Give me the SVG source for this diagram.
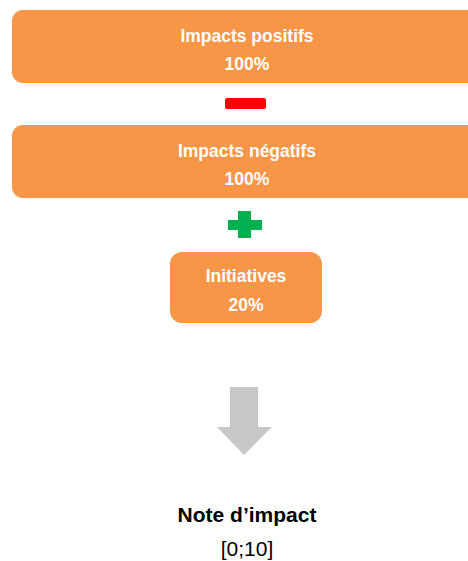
<svg xmlns="http://www.w3.org/2000/svg" width="468" height="561" viewBox="0 0 468 561">
<style>
.box{fill:#F79646;}
.lbl{font-family:"Liberation Sans",Arial,sans-serif;font-weight:bold;font-size:17.5px;fill:#ffffff;text-anchor:middle;}
.res{font-family:"Liberation Sans",Arial,sans-serif;fill:#000000;text-anchor:middle;}
</style>
<rect width="468" height="561" fill="#ffffff"/>
<g id="impacts-positifs">
<rect class="box" x="12" y="10" width="470" height="73" rx="11"/>
<text class="lbl" x="247" y="42">Impacts positifs</text>
<text class="lbl" x="247" y="70">100%</text>
</g>
<g id="minus">
<rect x="225" y="98" width="41" height="11" rx="2" fill="#FF0000"/>
</g>
<g id="impacts-negatifs">
<rect class="box" x="12" y="125" width="470" height="73" rx="11"/>
<text class="lbl" x="247" y="157">Impacts négatifs</text>
<text class="lbl" x="247" y="185">100%</text>
</g>
<g id="plus">
<rect x="228" y="220" width="34" height="10" fill="#00B050"/>
<rect x="238" y="211" width="13" height="27" fill="#00B050"/>
</g>
<g id="initiatives">
<rect class="box" x="170" y="252" width="152" height="71" rx="12"/>
<text class="lbl" x="246" y="282">Initiatives</text>
<text class="lbl" x="246" y="311">20%</text>
</g>
<g id="connectors">
<polygon points="230,387 258,387 258,427 272,427 244,455 217,427 230,427" fill="#C8C8C8"/>
</g>
<g id="note">
<text class="res" x="247" y="522" font-size="21" font-weight="bold">Note d’impact</text>
<text class="res" x="247" y="556" font-size="21">[0;10]</text>
</g>
</svg>
